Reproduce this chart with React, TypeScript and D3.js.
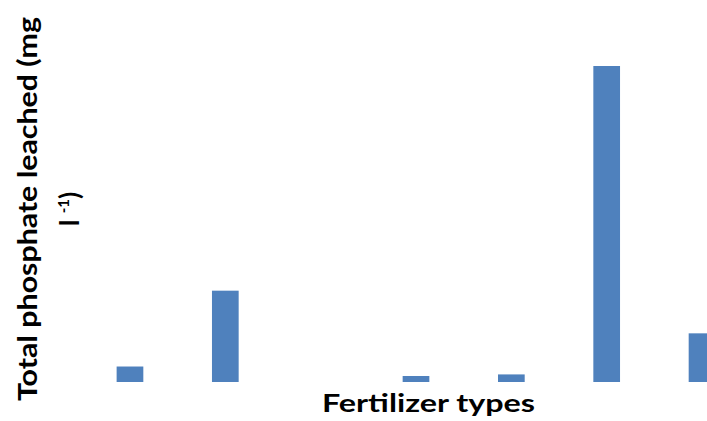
import * as d3 from 'd3';

// values (no visible axis, units estimated)
const fertilizers = ['F1', 'F2', 'F3', 'F4', 'F5', 'F6', 'F7'];
const phosphate = [0.49, 2.89, 0, 0.19, 0.24, 10.0, 1.54];

const yTitle1 = 'Total phosphate leached (mg';
const xTitle = 'Fertilizer types';

const W = 707;
const H = 421;

const App = () => {
  // band layout: the last category runs off the right edge like the source
  const x = d3.scaleBand()
    .domain(fertilizers)
    .range([82.3, 749.7])
    .paddingInner(0.72)
    .paddingOuter(0.36)
    .align(0.5);

  const y = d3.scaleLinear()
    .domain([0, 10])
    .range([382, 66]);

  const font = 'Lato, "Open Sans", "Liberation Sans", sans-serif';

  return (
    <svg
      width={W}
      height={H}
      style={{ position: 'absolute', left: 0, top: 0, background: '#fff' }}
    >
      <rect width={W} height={H} fill="#fff" />
      <g>
        {fertilizers.map((f, i) => (
          <rect
            key={f}
            x={x(f)}
            y={y(phosphate[i])}
            width={x.bandwidth()}
            height={y(0) - y(phosphate[i])}
            fill="#4F81BD"
          />
        ))}
      </g>

      {/* y axis title, two lines */}
      <g fontFamily={font} fontWeight="bold" fill="#000">
        <text
          transform="translate(37,209) rotate(-90)"
          textAnchor="middle"
          fontSize={26}
          textLength={384}
          lengthAdjust="spacingAndGlyphs"
        >
          {yTitle1}
        </text>
        <text
          transform="translate(79,209) rotate(-90)"
          textAnchor="middle"
          fontSize={26}
        >
          l <tspan fontSize={15} dy={-10}>-1</tspan><tspan dy={10}>)</tspan>
        </text>
      </g>

      <text
        x={428.5}
        y={412}
        textAnchor="middle"
        fontFamily={font}
        fontWeight="bold"
        fontSize={24}
        textLength={213}
        lengthAdjust="spacingAndGlyphs"
        fill="#000"
      >
        {xTitle}
      </text>
    </svg>
  );
};

export default App;
